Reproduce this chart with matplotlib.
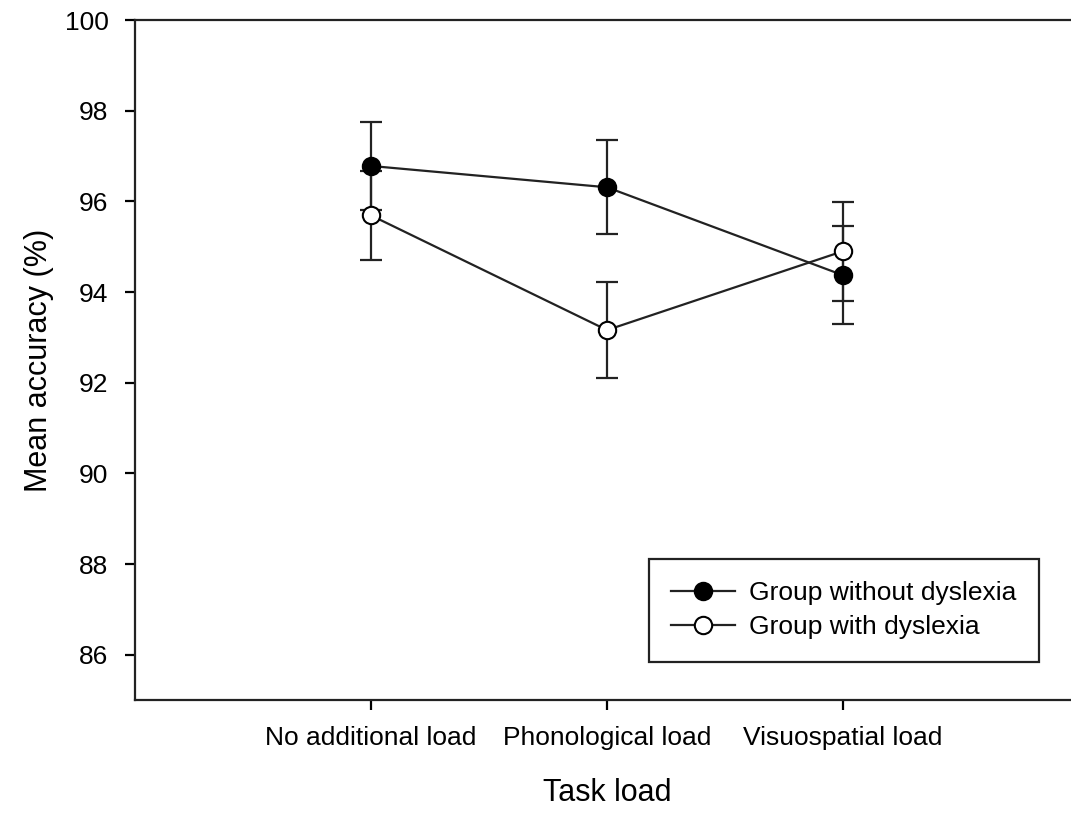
import matplotlib
matplotlib.use("Agg")
import matplotlib.pyplot as plt
import numpy as np

plt.rcParams['font.family'] = ['Liberation Sans', 'DejaVu Sans']

loads = ["No additional load", "Phonological load", "Visuospatial load"]
without_mean = [96.78, 96.31, 94.37]
without_err = [0.97, 1.04, 1.08]
with_mean = [95.69, 93.16, 94.90]
with_err = [0.98, 1.06, 1.09]
y_ticks = [86, 88, 90, 92, 94, 96, 98, 100]

x = np.arange(1, len(loads) + 1)

fig = plt.figure(figsize=(10.71, 8.13), dpi=100)
ax = fig.add_axes([135 / 1071, 1 - 700 / 813, (1079 - 135) / 1071, (700 - 20) / 813])

# error bars first, markers drawn on top
for m, e in [(without_mean, without_err), (with_mean, with_err)]:
    ax.errorbar(x, m, yerr=e, fmt='none', ecolor='#222222', elinewidth=1.6,
                capsize=8, capthick=1.6, zorder=2)

ax.plot(x, without_mean, '-o', color='#222222', lw=1.6, ms=12.5,
        mfc='black', mec='black', mew=1.5, zorder=3, label="Group without dyslexia")
ax.plot(x, with_mean, '-o', color='#222222', lw=1.6, ms=12.5,
        mfc='white', mec='black', mew=1.5, zorder=3, label="Group with dyslexia")

ax.set_xlim(0, 4)
ax.set_ylim(85, 100)
ax.set_xticks(x)
ax.set_xticklabels(loads)
ax.set_yticks(y_ticks)
ax.tick_params(axis='both', direction='out', length=7, width=1.6, labelsize=19, pad=12)
for s in ['left', 'bottom', 'top']:
    ax.spines[s].set_linewidth(1.6)
    ax.spines[s].set_color('#222222')
ax.spines['right'].set_visible(False)

ax.set_xlabel("Task load", fontsize=22, labelpad=20)
ax.set_ylabel("Mean accuracy (%)", fontsize=22, labelpad=8)

leg = ax.legend(loc='upper left', bbox_to_anchor=(649 / 1071, 1 - 559 / 813),
                bbox_transform=fig.transFigure, fontsize=19, frameon=True,
                fancybox=False, framealpha=1, edgecolor='#222222',
                handlelength=2.4, handletextpad=0.55, borderpad=0.85,
                labelspacing=0.38, borderaxespad=0)
leg.get_frame().set_linewidth(1.6)

fig.savefig("out.png", dpi=100)
